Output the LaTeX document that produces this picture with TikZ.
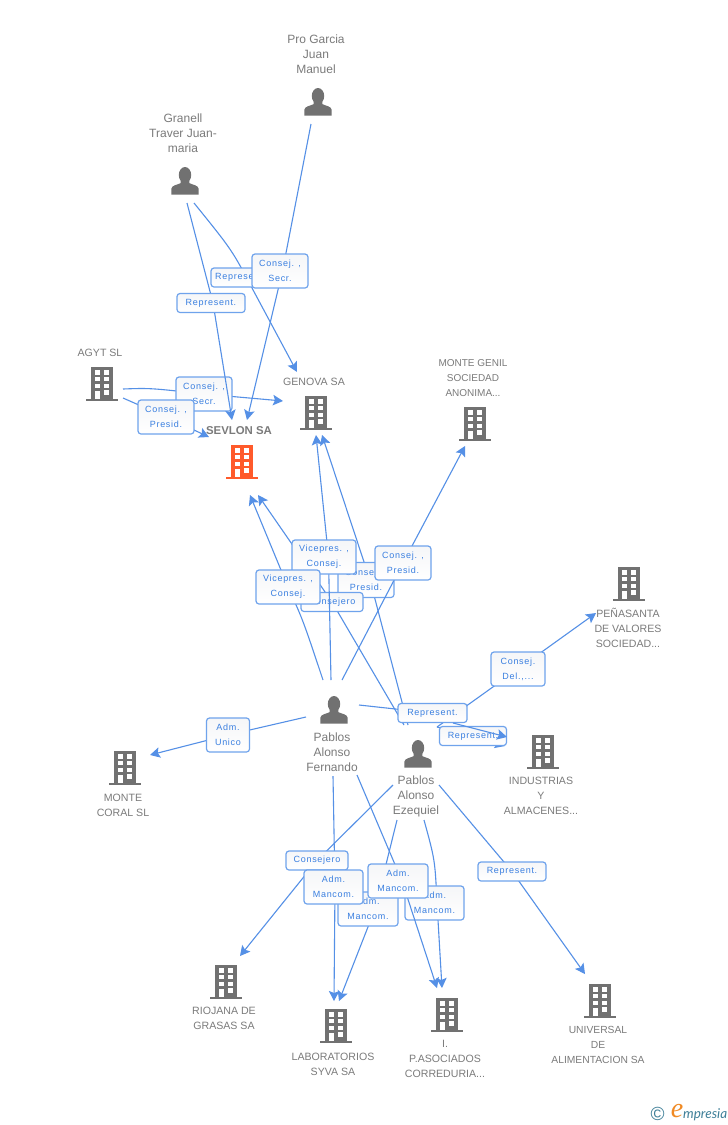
\documentclass[tikz,border=0pt]{standalone}
\usepackage{fontspec}
\setmainfont{Liberation Sans}
\usetikzlibrary{arrows.meta,calc}
\definecolor{edgeblue}{HTML}{5590E6}
\definecolor{boxblue}{HTML}{6FA3EC}
\definecolor{txtblue}{HTML}{3A7FE0}
\definecolor{icongray}{HTML}{717171}
\definecolor{txtgray}{HTML}{7B7B7B}
\definecolor{orangeb}{HTML}{FF5A2B}
\definecolor{boxtop}{HTML}{F5F6F8}
\definecolor{logoteal}{HTML}{3E7F98}
\definecolor{logoorange}{HTML}{F08A24}
\newfontfamily\lblfont[LetterSpace=8]{Liberation Sans}
\tikzset{
  edge/.style={draw=edgeblue,line width=1.1pt,-{Stealth[length=10pt,width=10.5pt,inset=2pt]}},
  lbl/.style={draw=boxblue,line width=1.2pt,rounded corners=3pt,top color=boxtop,bottom color=white,
    text=txtblue,font=\lblfont\fontsize{9}{15}\selectfont,align=center,inner sep=0pt},
  nametxt/.style={text=txtgray,font=\fontsize{10.6}{15}\selectfont,align=center,inner sep=0pt},
  perstxt/.style={nametxt,font=\fontsize{12}{15}\selectfont}
}
\newcommand{\bldg}[3]{%
  \node[inner sep=0pt,minimum width=32pt,minimum height=34pt] (#1) at (#2) {};
  \begin{scope}[shift={(#1.center)}]
    \fill[#3] (-11,-17) rectangle (11,15);
    \fill[#3] (-16,15) rectangle (16,17);
    \foreach \yy in {-13.7,-7,-0.3}{
      \fill[white] (-7,\yy) rectangle (-2,\yy+4.4);
      \fill[white] (2.3,\yy) rectangle (7.3,\yy+4.4);
    }
    \fill[white] (-7,7) rectangle (-2,15);
    \fill[white] (2.3,6.3) rectangle (7.3,10.7);
  \end{scope}}
\newcommand{\person}[2]{%
  \node[inner sep=0pt,minimum width=28pt,minimum height=28pt] (#1) at (#2) {};
  \begin{scope}[shift={(#1.center)}]
    \fill[icongray] (0,-6) ellipse (6.2 and 8);
    \fill[icongray] (-4,-2) -- (4,-2) -- (4.5,2.2) .. controls (7,3.6) and (13.2,4.2) .. (13.6,7.5) -- (13.6,13.5) -- (-13.6,13.5) -- (-13.6,7.5) .. controls (-13.2,4.2) and (-7,3.6) .. (-4.5,2.2) -- cycle;
  \end{scope}}
\newcommand{\elabel}[5]{\node[lbl,minimum width=#3pt,minimum height=#4pt] (#1) at (#2) {#5};}
\begin{document}
\begin{tikzpicture}[x=1pt,y=-1pt]
\useasboundingbox (0,0) rectangle (728,1125);
\fill[white] (0,0) rectangle (728,1125);
% icons
\person{pro}{318,102}
\person{gran}{185,181}
\person{fern}{334,710}
\person{ezeq}{418,754}
\bldg{agyt}{102,384}{icongray}
\bldg{gen}{316,413}{icongray}
\bldg{sev}{242,462}{orangeb}
\bldg{genil}{475,424}{icongray}
\bldg{pen}{629,584}{icongray}
\bldg{ind}{543,752}{icongray}
\bldg{coral}{125,768}{icongray}
\bldg{rio}{226,982}{icongray}
\bldg{lab}{336,1026}{icongray}
\bldg{ip}{447,1015}{icongray}
\bldg{univ}{600,1001}{icongray}
% names
\node[perstxt] (tpro) at (316,54) {Pro Garcia\\Juan\\Manuel};
\node[perstxt] (tgran) at (183,133) {Granell\\Traver Juan-\\maria};
\node[nametxt] (tagyt) at (100,353) {AGYT SL};
\node[nametxt] (tgen) at (314,382) {GENOVA SA};
\node[nametxt,font=\bfseries\fontsize{11.4}{15}\selectfont] (tsev) at (239,431) {SEVLON SA};
\node[nametxt,font=\fontsize{10}{15}\selectfont] (tgenil) at (473,378) {MONTE GENIL\\SOCIEDAD\\ANONIMA...};
\node[nametxt] (tpen) at (628,628) {PEÑASANTA\\DE VALORES\\SOCIEDAD...};
\node[nametxt] (tind) at (541,796) {INDUSTRIAS\\Y\\ALMACENES...};
\node[nametxt] (tcoral) at (123,805) {MONTE\\CORAL SL};
\node[nametxt] (trio) at (224,1018) {RIOJANA DE\\GRASAS SA};
\node[nametxt] (tlab) at (333,1064) {LABORATORIOS\\SYVA SA};
\node[nametxt] (tip) at (445,1059) {I.\\P.ASOCIADOS\\CORREDURIA...};
\node[nametxt,font=\fontsize{10.3}{15}\selectfont] (tuniv) at (598,1045) {UNIVERSAL\\DE\\ALIMENTACION SA};
\node[perstxt] (tfern) at (332,752) {Pablos\\Alonso\\Fernando};
\node[perstxt] (tezeq) at (416,796) {Pablos\\Alonso\\Ezequiel};
% connectors, each followed by its label
\draw[edge] ($(gran)+(9,22)$) .. controls (232,250) .. (252,288) -- ($(gen)+(-19,-41)$);
\elabel{l1}{240.5,277.5}{59}{19}{Represent.}
\draw[edge] ($(pro)+(-7,22)$) -- (282.5,271) -- ($(sev)+(5,-42)$);
\elabel{l2}{280,271}{56}{34}{Consej. ,\\Secr.}
\draw[edge] ($(agyt)+(21,5)$) .. controls (150,388) .. (204,394) -- ($(gen)+(-33,-12)$);
\elabel{l3}{204,394}{56}{34}{Consej. ,\\Secr.}
\draw[edge] ($(agyt)+(21,14)$) -- (166,417) -- ($(sev)+(-33,-25)$);
\elabel{l4}{166,417}{56}{34}{Consej. ,\\Presid.}
\draw[edge] ($(gran)+(2,22)$) -- (213,303) -- ($(sev)+(-10,-42)$);
\elabel{l5}{211,303}{68}{19}{Represent.}
\draw[edge] ($(ezeq)+(-10,-29)$) -- (370,580) -- ($(gen)+(6,22)$);
\elabel{l6}{366,580}{56}{35}{Consej. ,\\Presid.}
\draw[edge] ($(ezeq)+(-14,-29)$) -- (332,602) -- ($(sev)+(16,33)$);
\elabel{l7}{332,602}{62}{19}{Consejero}
\draw[edge] ($(fern)+(-3,-30)$) -- (328.5,557) -- ($(gen)+(0,22)$);
\elabel{l8}{324,557}{64}{34}{Vicepres. ,\\Consej.}
\draw[edge] ($(fern)+(-11,-30)$) .. controls (303,620) .. (288,587) -- ($(sev)+(8,33)$);
\elabel{l9}{288,587}{64}{34}{Vicepres. ,\\Consej.}
\draw[edge] ($(fern)+(8,-30)$) -- (403,563) -- ($(genil)+(-10,22)$);
\elabel{l10}{403,563}{56}{34}{Consej. ,\\Presid.}
\draw[edge] ($(fern)+(-28,7)$) -- (228,735) -- ($(coral)+(25,-13)$);
\elabel{l11}{228,735}{43}{34}{Adm.\\Unico}
\draw[edge] ($(ezeq)+(19,-27)$) -- (473,736) -- ($(ind)+(-38,-6)$);
\elabel{l12}{473,736}{67}{19}{Represent.}
\draw[edge] ($(ezeq)+(19,-27)$) -- (518,669) -- ($(pen)+(-33,29)$);
\elabel{l13}{518,669}{54}{34}{Consej.\\Del.,...}
\draw[edge,-] ($(fern)+(25,-5)$) -- (432,713);
\elabel{l14}{432.5,713}{69}{19}{Represent.}
\draw[edge] (453,723) -- ($(ind)+(-36,-15)$);
\draw[edge] ($(ezeq)+(21,31)$) -- (512,871.5) -- ($(univ)+(-15,-27)$);
\elabel{l15}{512,871.5}{68}{19}{Represent.}
\draw[edge] ($(fern)+(-1,66)$) -- (335,887) -- ($(lab)+(-2,-25)$);
\draw[edge] ($(ezeq)+(-25,31)$) -- (317,860.5) -- ($(rio)+(14,-26)$);
\elabel{l16}{317,860.5}{62}{19}{Consejero}
\draw[edge] ($(ezeq)+(6,66)$) .. controls (435,860) .. (437,903) -- ($(ip)+(-5,-27)$);
\elabel{l17}{434.5,903}{59}{34}{Adm.\\Mancom.}
\draw[edge] ($(ezeq)+(-21,66)$) -- (375,909) -- ($(lab)+(3,-25)$);
\elabel{l18}{368,909}{60}{34}{Adm.\\Mancom.}
\elabel{l19}{333.5,887}{59}{34}{Adm.\\Mancom.}
\draw[edge] ($(fern)+(23,65)$) -- (402,881) -- ($(ip)+(-10,-27)$);
\elabel{l20}{398,881}{60}{34}{Adm.\\Mancom.}
% logo
\node[inner sep=0pt,text=logoteal,font=\fontsize{19}{19}\selectfont] (copy) at (657.5,1114) {©};
\node[inner sep=0pt,text=logoorange,font=\fontsize{28}{28}\selectfont] (ee) at (677,1111) {\fontspec{Liberation Serif}\itshape e};
\node[inner sep=0pt,anchor=west,text=logoteal,font=\fontsize{13.5}{13.5}\selectfont] (mp) at (683,1115) {\fontspec{Lato}\itshape mpresia};
\end{tikzpicture}
\end{document}
